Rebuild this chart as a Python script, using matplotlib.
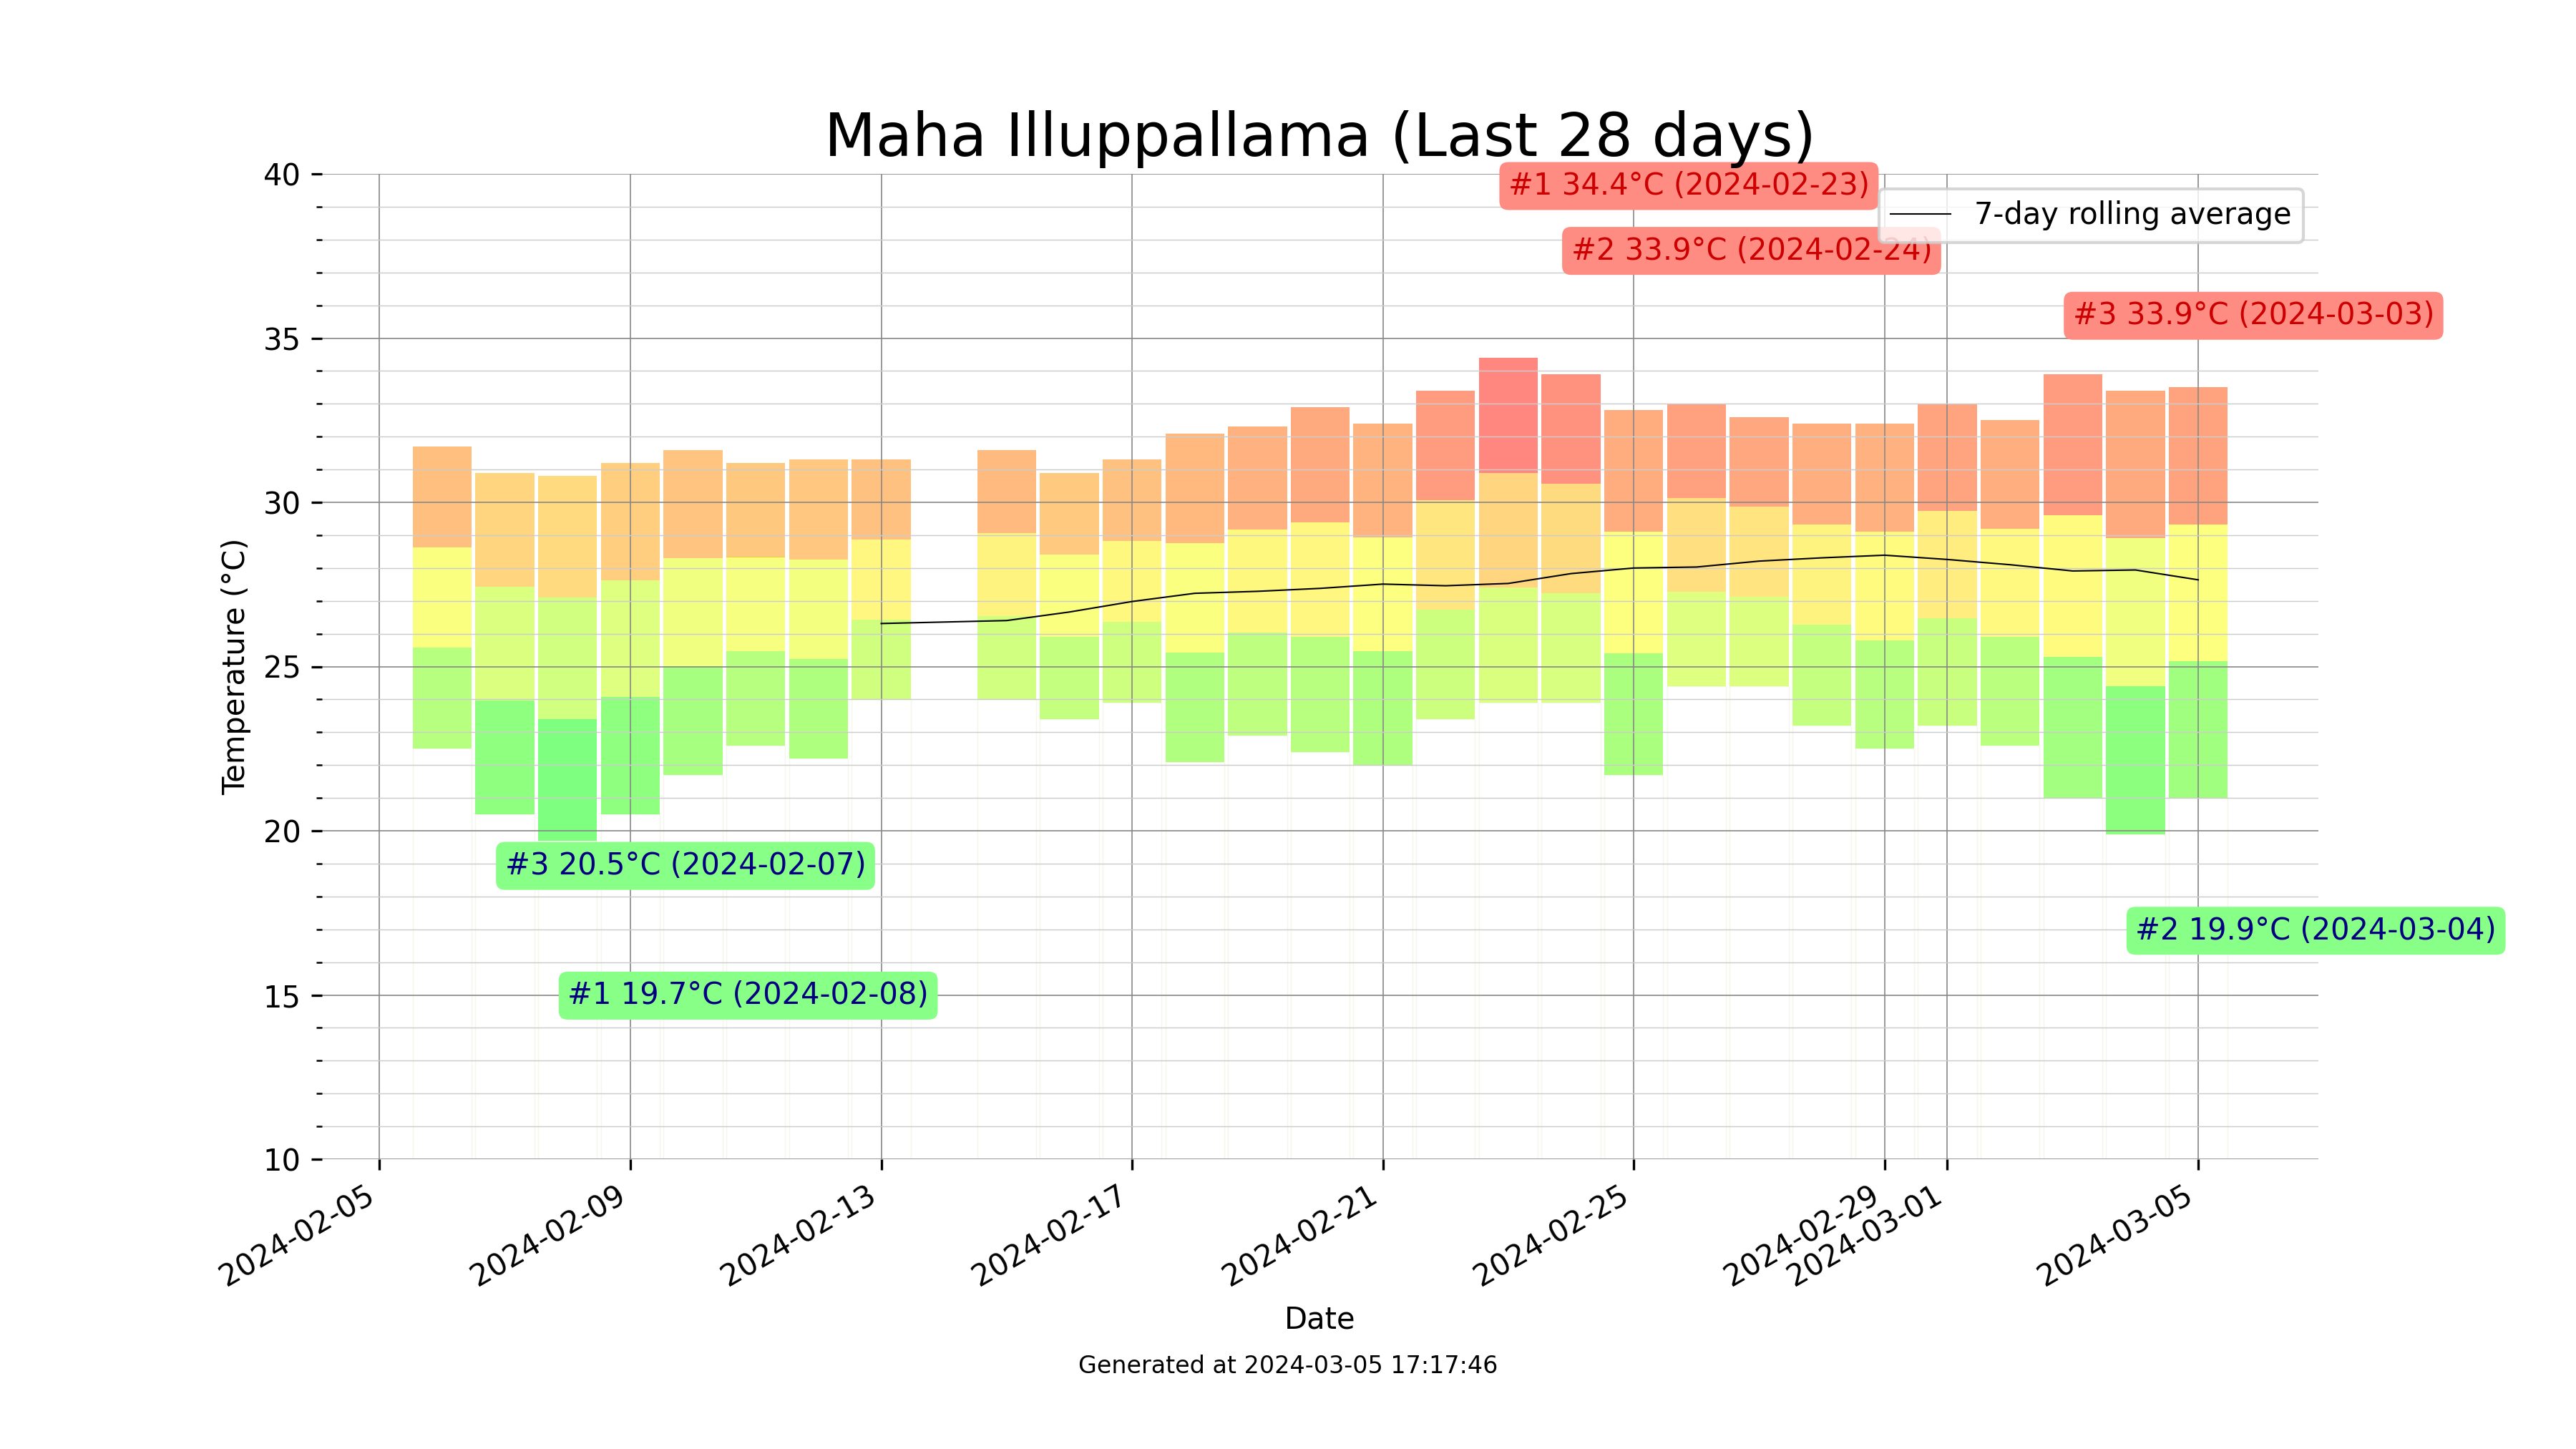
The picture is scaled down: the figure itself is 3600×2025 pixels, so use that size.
import numpy as np
import pandas as pd
import matplotlib
matplotlib.use('Agg')
import matplotlib.pyplot as plt
import matplotlib.dates as mdates
from matplotlib.colors import LinearSegmentedColormap, Normalize
from matplotlib.ticker import MultipleLocator

station = 'Maha Illuppallama'
generated = '2024-03-05 17:17:46'

# daily readings (2024-02-14 has no data)
days = ['2024-02-06', '2024-02-07', '2024-02-08', '2024-02-09', '2024-02-10',
        '2024-02-11', '2024-02-12', '2024-02-13', '2024-02-15', '2024-02-16',
        '2024-02-17', '2024-02-18', '2024-02-19', '2024-02-20', '2024-02-21',
        '2024-02-22', '2024-02-23', '2024-02-24', '2024-02-25', '2024-02-26',
        '2024-02-27', '2024-02-28', '2024-02-29', '2024-03-01', '2024-03-02',
        '2024-03-03', '2024-03-04', '2024-03-05']
t_max = [31.7, 30.9, 30.8, 31.2, 31.6, 31.2, 31.3, 31.3, 31.6, 30.9,
         31.3, 32.1, 32.3, 32.9, 32.4, 33.4, 34.4, 33.9, 32.8, 33.0,
         32.6, 32.4, 32.4, 33.0, 32.5, 33.9, 33.4, 33.5]
t_min = [22.5, 20.5, 19.7, 20.5, 21.7, 22.6, 22.2, 24.0, 24.0, 23.4,
         23.9, 22.1, 22.9, 22.4, 22.0, 23.4, 23.9, 23.9, 21.7, 24.4,
         24.4, 23.2, 22.5, 23.2, 22.6, 21.0, 19.9, 21.0]
rolling_avg = [np.nan, np.nan, np.nan, np.nan, np.nan, np.nan, np.nan, 26.31,
               26.40, 26.66, 26.98, 27.23, 27.29, 27.38, 27.51, 27.46, 27.53,
               27.83, 28.00, 28.03, 28.21, 28.31, 28.39, 28.26, 28.10, 27.91,
               27.94, 27.64]


def main():
    x = mdates.date2num(pd.to_datetime(days))
    hi = np.array(t_max)
    lo = np.array(t_min)

    # split every day into three equal pieces, coloured by their middle value
    seg = (hi - lo) / 3
    bottoms = [lo + k * seg for k in range(3)]
    mids = [b + seg / 2 for b in bottoms]
    cmap = LinearSegmentedColormap.from_list('temp', ['#00ff00', '#ffff00', '#ff0000'])
    norm = Normalize(vmin=min(m.min() for m in mids), vmax=max(m.max() for m in mids) + 0.4)

    fig, ax = plt.subplots(figsize=(12, 6.75), dpi=300)

    ax.bar(x, lo - 10, bottom=10, width=0.94, fill=False,
           edgecolor='#f5f7ea', linewidth=0.35)
    for b, m in zip(bottoms, mids):
        ax.bar(x, seg, bottom=b, width=0.94, color=cmap(norm(m)),
               alpha=0.5, linewidth=0)

    ax.plot(x, rolling_avg, color='black', linewidth=0.5, label='7-day rolling average')

    # top 3 hottest / coldest days
    order_hi = np.argsort(-hi, kind='stable')[:3]
    order_lo = np.argsort(lo, kind='stable')[:3]
    for i, idx in enumerate(order_hi):
        ax.text(x[idx], 39.63 - 1.975 * i, f'#{i + 1} {hi[idx]:.1f}°C ({days[idx]})',
                ha='left', va='center', color='#cc0000', fontsize=10,
                bbox=dict(boxstyle='round,pad=0.3', facecolor='#ff8c82', edgecolor='none'))
    for i, idx in enumerate(order_lo):
        ax.text(x[idx], 14.98 + 1.975 * i, f'#{i + 1} {lo[idx]:.1f}°C ({days[idx]})',
                ha='left', va='center', color='#000080', fontsize=10,
                bbox=dict(boxstyle='round,pad=0.3', facecolor='#88ff86', edgecolor='none'))

    ax.set_ylim(10, 40)
    ax.yaxis.set_major_locator(MultipleLocator(5))
    ax.yaxis.set_minor_locator(MultipleLocator(1))
    ax.xaxis.set_major_locator(mdates.DayLocator(bymonthday=range(1, 32, 4)))
    ax.xaxis.set_major_formatter(mdates.DateFormatter('%Y-%m-%d'))
    ax.grid(which='major', color='#888888', linewidth=0.4)
    ax.grid(which='minor', axis='y', color='#cccccc', linewidth=0.35)
    for s in ax.spines.values():
        s.set_visible(False)

    ax.set_title(f'{station} (Last 28 days)', fontsize=20)
    ax.set_xlabel('Date')
    ax.set_ylabel('Temperature (°C)')
    ax.legend(loc='upper right')
    fig.autofmt_xdate()
    fig.text(0.5, 0.057, f'Generated at {generated}', ha='center', va='center', fontsize=8)

    fig.savefig('out.png', dpi=300)


if __name__ == '__main__':
    main()
